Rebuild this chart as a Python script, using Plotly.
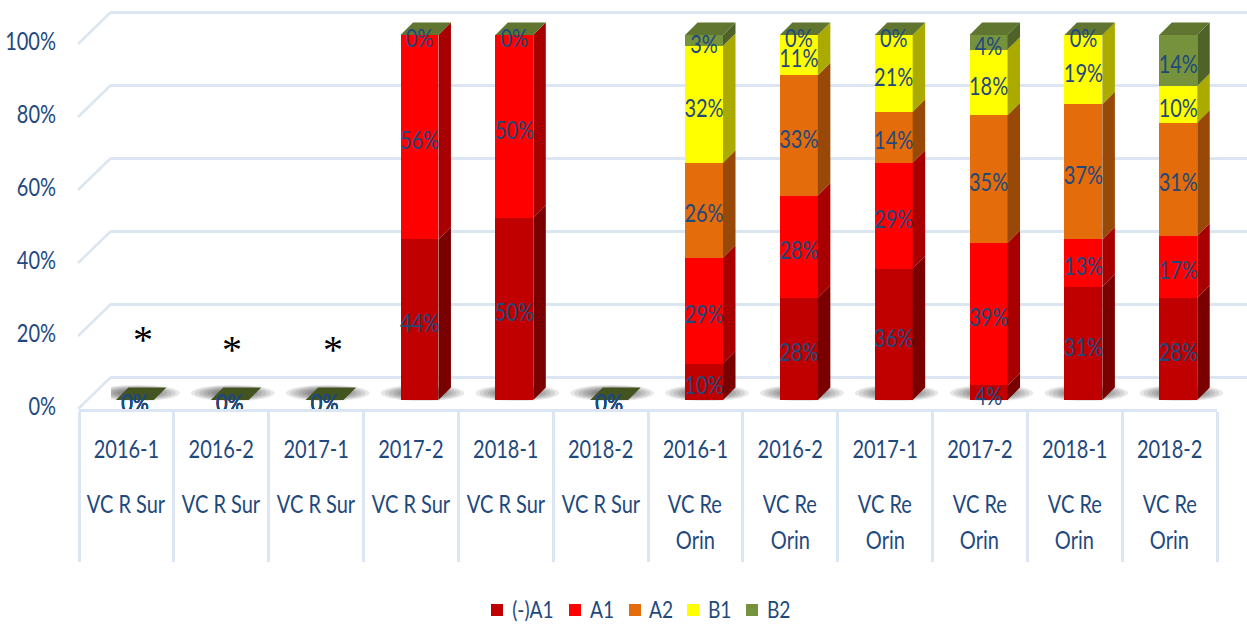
import plotly.graph_objects as go

periods = ["2016-1","2016-2","2017-1","2017-2","2018-1","2018-2","2016-1","2016-2","2017-1","2017-2","2018-1","2018-2"]
groups = ["VC R Sur"]*6 + ["VC Re<br>Orin"]*6
series_names = ["(-)A1","A1","A2","B1","B2"]
minus_a1 = [0,0,0,44,50,0,10,28,36,4,31,28]
a1       = [0,0,0,56,50,0,29,28,29,39,13,17]
a2       = [0,0,0,0,0,0,26,33,14,35,37,31]
b1       = [0,0,0,0,0,0,32,11,21,18,19,10]
b2       = [0,0,0,0,0,0,3,0,0,4,0,14]
series_values = [minus_a1,a1,a2,b1,b2]
front_colors = ["#C00000","#FF0000","#E46C0A","#FFFF00","#76923C"]
side_colors  = ["#7A0000","#A80000","#984807","#AAAA00","#4F6228"]
star_marks = [(143,336),(232,346),(333,346)]
yticks = [0,20,40,60,80,100]

W,H = 1247,624
L,R_EDGE,BOTTOM = 79,1247,409
PW = R_EDGE-L
UX = 94.85      # px per category
UY = 3.65       # px per percent
BAR_SHIFT = 8.5
DEPTH = 12.5
BAR_W = 0.4
LABEL_DY = 6/UY
TXT = "#1F497D"
GRID = "#DCE6F2"
FONT = "Lato, Noto Sans, sans-serif"

def px(x): return (x-L)/PW
def py(y): return (BOTTOM-y)/BOTTOM

fig = go.Figure()
n = len(periods)
xs = list(range(n))
bar_x0 = -0.5-BAR_SHIFT/UX
wall_x0 = (111-L-BAR_SHIFT)/UX-0.5
dx = DEPTH/UX
dv = DEPTH/UY

fig.add_trace(go.Scatter(x=xs,y=[0]*n,mode="markers",marker=dict(opacity=0),showlegend=False,hoverinfo="skip",xaxis="x",yaxis="y"))
fig.add_trace(go.Scatter(x=[0],y=[0],mode="markers",marker=dict(opacity=0),showlegend=False,hoverinfo="skip",xaxis="x2",yaxis="y2"))
shapes=[]
def wv(y): return (377-y)/UY
for (x0,x1,y0,y1) in [(110,171,301,370),(201,261,330,381),(301,361,330,381)]:
    shapes.append(dict(type="rect",xref="paper",yref="y2",x0=px(x0),x1=px(x1),y0=wv(y1),y1=wv(y0),
                       fillcolor="white",line_width=0,layer="between"))
for i in xs:
    for k in [1,.9,.8,.7,.6,.5,.4,.3,.2]:
        cx = i+3/UX; hw=42*k/UX; cy=wv(393); hh=8*k/UY
        shapes.append(dict(type="circle",xref="x2",yref="y2",x0=cx-hw,x1=cx+hw,y0=cy-hh,y1=cy+hh,
                           fillcolor="rgba(0,0,0,0.09)",line_width=0,layer="between"))

for name,vals,col in zip(series_names,series_values,front_colors):
    fig.add_trace(go.Bar(x=xs,y=vals,name=name,marker=dict(color=col,line_width=0),width=BAR_W,
                         xaxis="x3",yaxis="y3",showlegend=False))
cum=[0]*n
label_x,label_y,label_t=[],[],[]
for s,(name,vals,col) in enumerate(zip(series_names,series_values,side_colors)):
    fx,fy=[],[]
    for i,v in enumerate(vals):
        b=cum[i]; t=b+v
        r=i+BAR_W/2
        fx+=[r,r+dx,r+dx,r,r,None]
        fy+=[b,b+dv,t+dv,t,b,None]
        total=sum(sv[i] for sv in series_values)
        if v>0 or total==0 or s==4:
            label_x.append(i); label_y.append(b+v/2-LABEL_DY); label_t.append(f"{v}%")
        cum[i]=t
    fig.add_trace(go.Scatter(x=fx,y=fy,mode="lines",fill="toself",fillcolor=col,line=dict(width=0),
                             showlegend=False,hoverinfo="skip",xaxis="x3",yaxis="y3"))
for cond,col in [(lambda t:t>0,"#5F7530"),(lambda t:t==0,"#435421")]:
    cx_,cy_=[],[]
    for i in xs:
        if cond(cum[i]):
            l=i-BAR_W/2; r=i+BAR_W/2; t=cum[i]
            cx_+=[l,r,r+dx,l+dx,l,None]
            cy_+=[t,t,t+dv,t+dv,t,None]
    fig.add_trace(go.Scatter(x=cx_,y=cy_,mode="lines",fill="toself",fillcolor=col,line=dict(width=0),
                             showlegend=False,hoverinfo="skip",xaxis="x3",yaxis="y3"))
fig.add_trace(go.Scatter(x=label_x,y=label_y,text=label_t,mode="text",textposition="middle center",
                         textfont=dict(family=FONT,size=25,color=TXT),showlegend=False,hoverinfo="skip",
                         xaxis="x3",yaxis="y3"))

for v in yticks:
    y=377-v*UY
    shapes.append(dict(type="line",xref="paper",yref="paper",x0=px(78),x1=px(111),y0=py(y+32),y1=py(y),
                       line=dict(color=GRID,width=2.5),layer="above"))

annotations=[]
for i,g in enumerate(groups):
    for j,line in enumerate(g.split("<br>")):
        annotations.append(dict(x=i,xref="x",y=py(503+36*j),yref="paper",text=line,showarrow=False,
                                xanchor="center",yanchor="middle",font=dict(family=FONT,size=25,color=TXT)))
for (sx,sy) in star_marks:
    annotations.append(dict(x=px(sx),xref="paper",y=py(sy),yref="paper",text="*",showarrow=False,
                            xanchor="center",yanchor="middle",yshift=-3,font=dict(family="Liberation Serif",size=40,color="black")))
leg_sw=[497,575,635,693,752]; leg_tx=[533,601.5,661,720,778]
for name,col,a,b in zip(series_names,front_colors,leg_sw,leg_tx):
    shapes.append(dict(type="rect",xref="paper",yref="paper",x0=px(a-6),x1=px(a+6),y0=py(616),y1=py(604),
                       fillcolor=col,line_width=0))
    annotations.append(dict(x=px(b),xref="paper",y=py(608),yref="paper",text=name,showarrow=False,
                            xanchor="center",yanchor="middle",font=dict(family=FONT,size=24,color=TXT)))

main_frac=(1217-L)/PW
fig.update_layout(
    width=W,height=H,margin=dict(l=L,r=W-R_EDGE,t=0,b=H-BOTTOM,pad=0),
    paper_bgcolor="white",plot_bgcolor="rgba(0,0,0,0)",barmode="stack",showlegend=False,
    font=dict(family=FONT,color=TXT),
    shapes=shapes,annotations=annotations,
    xaxis=dict(domain=[0,main_frac],range=[-0.5,11.5],tickmode="array",tickvals=xs,ticktext=periods,automargin=False,
               showgrid=False,zeroline=False,showline=True,linecolor=GRID,linewidth=3,ticks="",
               ticklabelstandoff=16,tickangle=0,tickfont=dict(family=FONT,size=25,color=TXT),
               minor=dict(tickmode="array",tickvals=[i-0.5 for i in range(n+1)],ticks="outside",ticklen=150,tickwidth=2.5,tickcolor=GRID,showgrid=False)),
    yaxis=dict(domain=[0,1],range=[0,BOTTOM/UY],tickmode="array",tickvals=yticks,ticktext=[f"{v}%" for v in yticks],automargin=False,
               showgrid=False,zeroline=False,showline=False,ticks="",ticklabelstandoff=22,ticklabelshift=-3,
               tickfont=dict(family=FONT,size=25,color=TXT)),
    xaxis2=dict(domain=[px(111),1],range=[wall_x0,wall_x0+(R_EDGE-111)/UX],visible=False,anchor="y2",fixedrange=True,automargin=False),
    yaxis2=dict(domain=[0,1],range=[(377-BOTTOM)/UY,377/UY],anchor="x2",tickmode="array",tickvals=yticks,automargin=False,
                showgrid=True,gridcolor=GRID,gridwidth=3,zeroline=False,showticklabels=False,ticks="",showline=False),
    xaxis3=dict(domain=[0,1],range=[bar_x0,bar_x0+PW/UX],visible=False,anchor="y3",automargin=False),
    yaxis3=dict(domain=[0,1],range=[(400-BOTTOM)/UY,400/UY],visible=False,anchor="x3",automargin=False),
)
post = """
document.body.style.margin='0';
document.querySelectorAll('svg text').forEach(function(t){
  if(!t.textContent || t.textContent==='*') return;
  var w=t.getComputedTextLength();
  if(w>0){t.setAttribute('textLength',(w*0.8).toFixed(1));t.setAttribute('lengthAdjust','spacingAndGlyphs');}
});
"""
fig.write_html("out.html",post_script=post,config={"displayModeBar":False})
